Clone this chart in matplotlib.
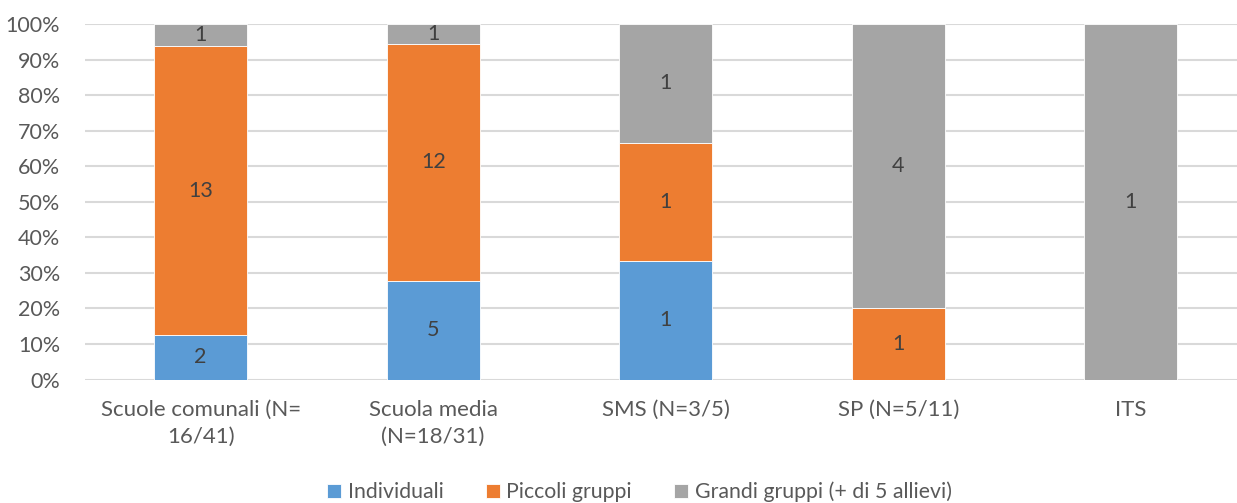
import numpy as np
import matplotlib
matplotlib.use('Agg')
import matplotlib.pyplot as plt

plt.rcParams['font.family'] = ['Lato', 'DejaVu Sans']

# data
categories = ['Scuole comunali (N=\n16/41)', 'Scuola media\n(N=18/31)', 'SMS (N=3/5)', 'SP (N=5/11)', 'ITS']
series_names = ['Individuali', 'Piccoli gruppi', 'Grandi gruppi (+ di 5 allievi)']
individuali = [2, 5, 1, 0, 0]
piccoli = [13, 12, 1, 1, 0]
grandi = [1, 1, 1, 4, 1]
colors = ['#5B9BD5', '#ED7D31', '#A5A5A5']

counts = np.array([individuali, piccoli, grandi], dtype=float)
totals = counts.sum(axis=0)
shares = counts / totals * 100

fig = plt.figure(figsize=(12.37, 5.03), dpi=100)
ax = fig.add_axes([85/1237, 1-379.5/503, 1-85/1237, 355.5/503])

x = np.arange(len(categories))
bottom = np.zeros(len(categories))
for k in range(3):
    bars = ax.bar(x, shares[k], 0.4, bottom=bottom, color=colors[k], label=series_names[k],
                  edgecolor='white', linewidth=0.6, zorder=3)
    for i in range(len(categories)):
        if counts[k][i] > 0:
            ax.text(x[i], bottom[i] + shares[k][i]/2, '%d' % counts[k][i], ha='center', va='center',
                    fontsize=15.5, color='#404040', zorder=4)
    bottom += shares[k]

ax.set_ylim(0, 100)
ax.set_xlim(-0.497, 4.456)
ax.set_yticks(np.arange(0, 101, 10))
ax.set_yticklabels(['%d%%' % v for v in range(0, 101, 10)])
ax.set_xticks(x)
ax.set_xticklabels(categories, linespacing=1.4)
ax.grid(axis='y', color='#D9D9D9', linewidth=1.5, zorder=0)
for s in ax.spines.values():
    s.set_visible(False)
ax.tick_params(axis='both', length=0, colors='#595959')
ax.tick_params(axis='y', labelsize=15.5, pad=18)
ax.tick_params(axis='x', labelsize=16, pad=15)

leg = fig.legend(loc='center', bbox_to_anchor=(0.517, 0.022), ncol=3, frameon=False,
                 fontsize=15.3, handlelength=0.65, handleheight=0.65, handletextpad=0.3, columnspacing=2.0)
for t in leg.get_texts():
    t.set_color('#595959')

plt.savefig('out.png', dpi=100)
